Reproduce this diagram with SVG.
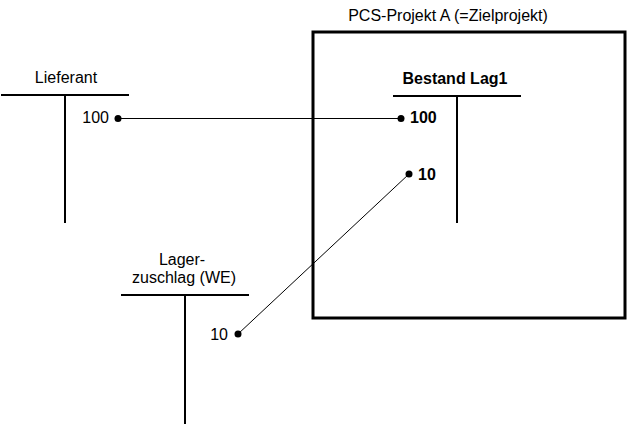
<svg xmlns="http://www.w3.org/2000/svg" width="627" height="425" viewBox="0 0 627 425">
<style>
text{font-family:"Liberation Sans",Arial,sans-serif;font-size:16px;fill:#000}
.b{font-weight:bold}
.t{stroke:#000;stroke-width:2;fill:none}
.c{stroke:#000;stroke-width:1;fill:none}
.d{fill:#000}
</style>
<rect width="627" height="425" fill="#fff"/>
<g id="projekt">
<rect x="313" y="32" width="312" height="286" fill="none" stroke="#000" stroke-width="3"/>
<text x="448" y="21" text-anchor="middle">PCS-Projekt A (=Zielprojekt)</text>
</g>
<g id="lieferant">
<text x="66" y="83" text-anchor="middle">Lieferant</text>
<line class="t" x1="1" y1="95" x2="129" y2="95"/>
<line class="t" x1="65" y1="95" x2="65" y2="223"/>
<text x="109" y="123" text-anchor="end">100</text>
<circle class="d" cx="118" cy="118.5" r="3.5"/>
</g>
<g id="bestand">
<text class="b" x="455" y="84" text-anchor="middle">Bestand Lag1</text>
<line class="t" x1="393" y1="96" x2="521" y2="96"/>
<line class="t" x1="457" y1="96" x2="457" y2="223"/>
<circle class="d" cx="401" cy="118.5" r="3.5"/>
<text class="b" x="410" y="123">100</text>
<circle class="d" cx="409" cy="174" r="3.5"/>
<text class="b" x="418" y="180">10</text>
</g>
<g id="lager">
<text x="182" y="265" text-anchor="middle">Lager-</text>
<text x="184" y="283" text-anchor="middle">zuschlag (WE)</text>
<line class="t" x1="121" y1="295" x2="249" y2="295"/>
<line class="t" x1="185" y1="295" x2="185" y2="424"/>
<text x="228" y="340" text-anchor="end">10</text>
<circle class="d" cx="238" cy="334" r="3.5"/>
</g>
<g id="connectors">
<line class="c" x1="118" y1="118.5" x2="401" y2="118.5"/>
<line class="c" x1="409" y1="174" x2="238" y2="334"/>
</g>
</svg>
